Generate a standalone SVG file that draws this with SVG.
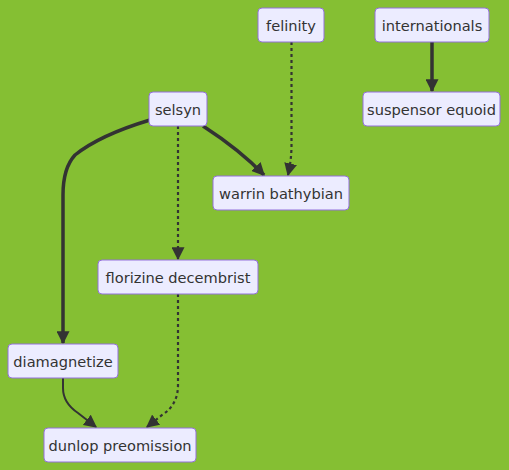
<svg xmlns="http://www.w3.org/2000/svg" width="509" height="470" viewBox="0 0 509 470">
<style>
.node rect{fill:#ECECFF;stroke:#9370DB;stroke-width:1}
.node text{font-family:"DejaVu Sans",Verdana,sans-serif;font-size:14.6px;fill:#333;text-anchor:middle;dominant-baseline:central}
.edge{fill:none;stroke:#333;stroke-width:3.5}
.thin{stroke-width:2}
.dotted{stroke-width:2.2;stroke-dasharray:3}
</style>
<defs>
<marker id="arrow" viewBox="0 0 10 10" refX="9" refY="5" markerUnits="userSpaceOnUse" markerWidth="13" markerHeight="13" orient="auto">
<path d="M0,0 L10,5 L0,10 z" fill="#333"/>
</marker>
</defs>
<rect width="509" height="470" fill="#85BF33"/>
<g id="connectors">
<path class="edge dotted" d="M291.5,42 L291.5,145 Q291.5,160 288,175" marker-end="url(#arrow)"/>
<path class="edge" d="M432,42 L432,91" marker-end="url(#arrow)"/>
<path class="edge" d="M203,126 Q240,150 264,175" marker-end="url(#arrow)"/>
<path class="edge dotted" d="M178,126 L178,259" marker-end="url(#arrow)"/>
<path class="edge" d="M150,120 Q100,135 75,155 Q63,168 63,195 L63,343" marker-end="url(#arrow)"/>
<path class="edge thin" d="M63,378 L63,388 Q63,403 78,413 L96,427" marker-end="url(#arrow)"/>
<path class="edge dotted" d="M178,294 L178,385 Q178,405 162,415 L147,427" marker-end="url(#arrow)"/>
</g>
<g id="felinity" class="node"><rect x="258" y="8" width="66" height="34" rx="4"/><text x="291" y="25">felinity</text></g>
<g id="internationals" class="node"><rect x="375" y="8" width="114" height="34" rx="4"/><text x="432" y="25">internationals</text></g>
<g id="selsyn" class="node"><rect x="149" y="92" width="58" height="34" rx="4"/><text x="178" y="109">selsyn</text></g>
<g id="suspensor-equoid" class="node"><rect x="363" y="92" width="137" height="34" rx="4"/><text x="431.5" y="109">suspensor equoid</text></g>
<g id="warrin-bathybian" class="node"><rect x="213" y="176" width="136" height="34" rx="4"/><text x="281" y="193">warrin bathybian</text></g>
<g id="florizine-decembrist" class="node"><rect x="98" y="260" width="160" height="34" rx="4"/><text x="178" y="277">florizine decembrist</text></g>
<g id="diamagnetize" class="node"><rect x="8" y="344" width="110" height="34" rx="4"/><text x="63" y="361">diamagnetize</text></g>
<g id="dunlop-preomission" class="node"><rect x="44" y="428" width="152" height="34" rx="4"/><text x="120" y="445">dunlop preomission</text></g>
</svg>
